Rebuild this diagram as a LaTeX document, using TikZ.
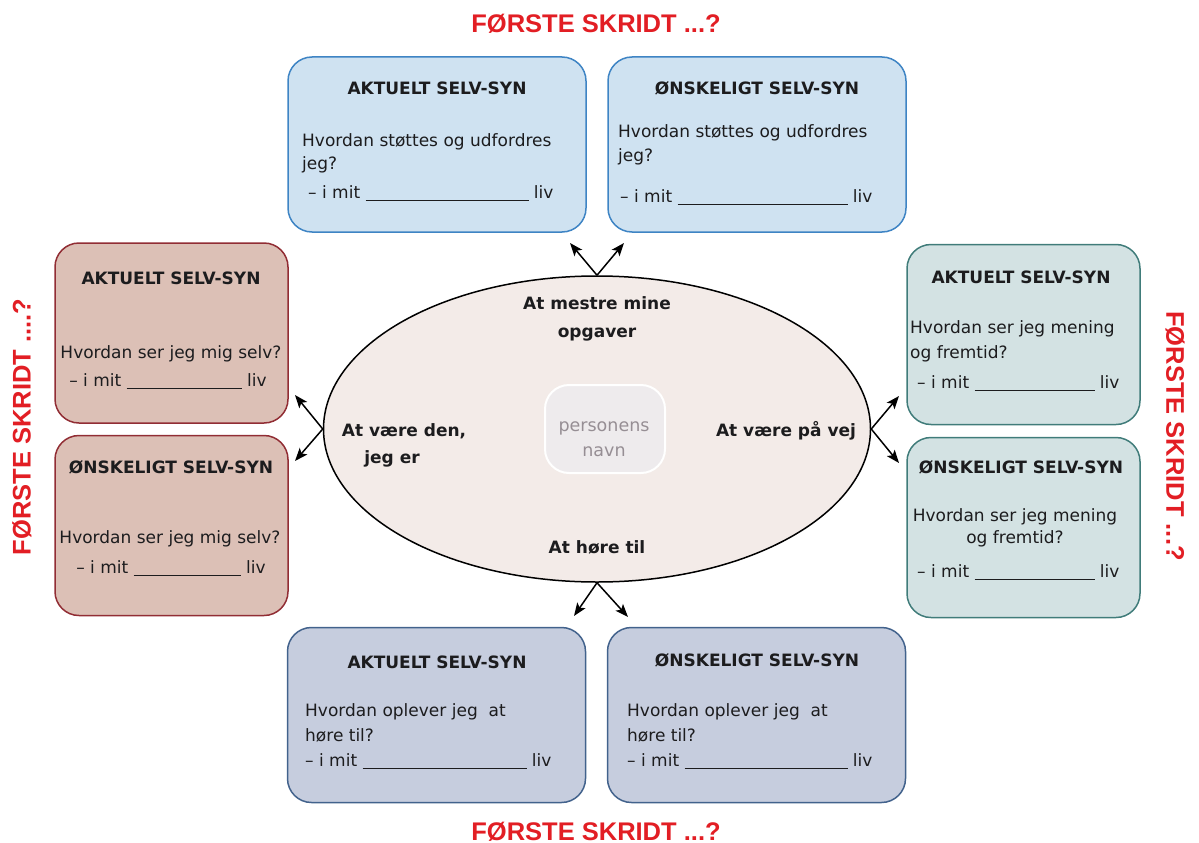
\documentclass[tikz,border=0pt]{standalone}
\usepackage{fontspec}
\setmainfont{DejaVu Sans}
\newfontfamily\redfont{Liberation Sans}
\usetikzlibrary{shapes.geometric,arrows.meta}
\definecolor{ink}{RGB}{28,28,30}
\definecolor{redtxt}{RGB}{226,30,36}
\definecolor{bluefill}{RGB}{207,226,241}
\definecolor{blueline}{RGB}{62,132,196}
\definecolor{brownfill}{RGB}{220,192,182}
\definecolor{brownline}{RGB}{145,45,52}
\definecolor{tealfill}{RGB}{211,226,227}
\definecolor{tealline}{RGB}{64,124,122}
\definecolor{slatefill}{RGB}{198,205,222}
\definecolor{slateline}{RGB}{66,98,140}
\definecolor{ellfill}{RGB}{243,235,232}
\definecolor{namefill}{RGB}{238,235,237}
\definecolor{nametxt}{RGB}{150,142,148}
\newcommand\fillin[1]{\rule[-2.5pt]{#1}{0.8pt}}
\begin{document}
\begin{tikzpicture}[x=1pt,y=-1pt,
  panel/.style={rounded corners=24pt, line width=1.5pt, inner sep=0pt},
  wide/.style={panel, minimum width=298pt, minimum height=175pt},
  narrow/.style={panel, minimum width=233pt, minimum height=180pt},
  pblue/.style={draw=blueline, fill=bluefill},
  pbrown/.style={draw=brownline, fill=brownfill},
  pteal/.style={draw=tealline, fill=tealfill},
  pslate/.style={draw=slateline, fill=slatefill},
  ttl/.style={font=\fontsize{17}{20}\selectfont\bfseries, text=ink, inner sep=0pt, anchor=base},
  bdy/.style={font=\fontsize{17}{20}\selectfont, text=ink, inner sep=0pt, anchor=base west},
  bdyc/.style={bdy, anchor=base},
  lbl/.style={font=\fontsize{17}{20}\selectfont\bfseries, text=ink, inner sep=0pt, anchor=base},
  redt/.style={font=\fontsize{25.5}{28}\selectfont\redfont\bfseries, text=redtxt, inner sep=0pt},
  arr/.style={-{Stealth[length=13pt,width=10pt,inset=3pt]}, line width=1.5pt, black}]
\useasboundingbox (0,0) rectangle (1199,843);

% red headings
\node[redt, anchor=base] (rtop) at (596,33) {FØRSTE SKRIDT ...?};
\node[redt, anchor=base] (rbot) at (596,840) {FØRSTE SKRIDT ...?};
\node[redt, rotate=90] (rleft) at (22,427) {FØRSTE SKRIDT ....?};
\node[redt, rotate=-90] (rright) at (1175,436) {FØRSTE SKRIDT ...?};

% central ellipse
\node[ellipse, draw=black, line width=1.5pt, fill=ellfill, minimum width=547pt, minimum height=306pt, inner sep=0pt] (ell) at (597,429) {};
\node[panel, draw=white, line width=2pt, fill=namefill, minimum width=120pt, minimum height=88pt] (name) at (605,429) {};
\node[font=\fontsize{17.5}{20}\selectfont, text=nametxt, inner sep=0pt, anchor=base] (name1) at (604,431) {personens};
\node[font=\fontsize{17.5}{20}\selectfont, text=nametxt, inner sep=0pt, anchor=base] (name2) at (604,456) {navn};

\node[lbl] (e1a) at (597,309) {At mestre mine};
\node[lbl] (e1b) at (597,337) {opgaver};
\node[lbl] (e2a) at (404,436) {At være den,};
\node[lbl] (e2b) at (392,463) {jeg er};
\node[lbl] (e3) at (786,436) {At være på vej};
\node[lbl] (e4) at (597,553) {At høre til};

% top boxes
\node[wide, pblue] (tl) at (437,144.5) {};
\node[ttl] (tlT) at (437,95) {AKTUELT SELV-SYN};
\node[bdy] (tl1) at (302,146) {Hvordan støttes og udfordres};
\node[bdy] (tl2) at (302,169) {jeg?};
\node[bdy] (tl3) at (308,198) {– i mit \fillin{163pt} liv};

\node[wide, pblue] (tr) at (757,144.5) {};
\node[ttl] (trT) at (757,95) {ØNSKELIGT SELV-SYN};
\node[bdy] (tr1) at (618,137) {Hvordan støttes og udfordres};
\node[bdy] (tr2) at (618,161) {jeg?};
\node[bdy] (tr3) at (620,202) {– i mit \fillin{170pt} liv};

% left boxes
\node[narrow, pbrown] (lt) at (171.5,333) {};
\node[ttl] (ltT) at (171,284) {AKTUELT SELV-SYN};
\node[bdyc] (lt1) at (171,358) {Hvordan ser jeg mig selv?};
\node[bdyc] (lt2) at (168,386) {– i mit \fillin{115pt} liv};

\node[narrow, pbrown] (lb) at (171.5,525.5) {};
\node[ttl] (lbT) at (171,473) {ØNSKELIGT SELV-SYN};
\node[bdyc] (lb1) at (170,543) {Hvordan ser jeg mig selv?};
\node[bdyc] (lb2) at (171,573) {– i mit \fillin{107pt} liv};

% right boxes
\node[narrow, pteal] (rt) at (1023.5,334.5) {};
\node[ttl] (rtT) at (1021,283) {AKTUELT SELV-SYN};
\node[bdy] (rt1) at (910,333) {Hvordan ser jeg mening};
\node[bdy] (rt2) at (910,358) {og fremtid?};
\node[bdy] (rt3) at (917,388) {– i mit \fillin{120pt} liv};

\node[narrow, pteal] (rb) at (1023.5,527.5) {};
\node[ttl] (rbT) at (1021,473) {ØNSKELIGT SELV-SYN};
\node[bdyc] (rb1) at (1015,521) {Hvordan ser jeg mening};
\node[bdyc] (rb2) at (1015,543) {og fremtid?};
\node[bdy] (rb3) at (917,577) {– i mit \fillin{120pt} liv};

% bottom boxes
\node[wide, pslate] (bl) at (436.5,715) {};
\node[ttl] (blT) at (437,668) {AKTUELT SELV-SYN};
\node[bdy] (bl1) at (305,716) {Hvordan oplever jeg\ \ at};
\node[bdy] (bl2) at (305,741) {høre til?};
\node[bdy] (bl3) at (305,766) {– i mit \fillin{164pt} liv};

\node[wide, pslate] (br) at (756.5,715) {};
\node[ttl] (brT) at (757,666) {ØNSKELIGT SELV-SYN};
\node[bdy] (br1) at (627,716) {Hvordan oplever jeg\ \ at};
\node[bdy] (br2) at (627,741) {høre til?};
\node[bdy] (br3) at (627,766) {– i mit \fillin{163pt} liv};

% arrow ends
\coordinate (aTl) at (570,243);
\coordinate (aTr) at (624,243);
\coordinate (aBl) at (574,616);
\coordinate (aBr) at (628,617);
\coordinate (aLt) at (295,395);
\coordinate (aLb) at (295,461);
\coordinate (aRt) at (899,396);
\coordinate (aRb) at (899,463);

\draw[arr] (ell.north) -- (aTl);
\draw[arr] (ell.north) -- (aTr);
\draw[arr] (ell.south) -- (aBl);
\draw[arr] (ell.south) -- (aBr);
\draw[arr] (ell.west) -- (aLt);
\draw[arr] (ell.west) -- (aLb);
\draw[arr] (ell.east) -- (aRt);
\draw[arr] (ell.east) -- (aRb);
\end{tikzpicture}
\end{document}
